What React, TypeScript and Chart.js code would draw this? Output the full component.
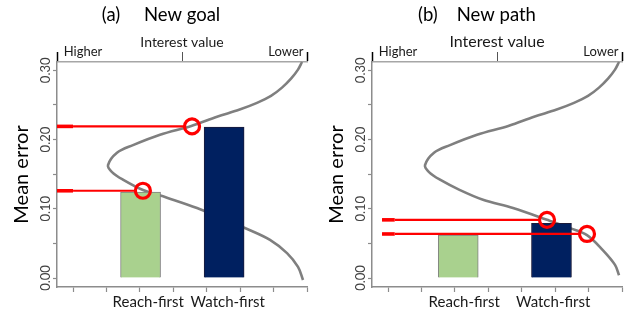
import React, { useEffect, useRef } from 'react';
import { Chart, registerables } from 'chart.js';

Chart.register(...registerables);

// ---------- data ----------
const categories = ['Reach-first', 'Watch-first'];
const panelTitles = ['(a)     New goal', '(b)    New path'];
const topAxisTitle = 'Interest value';
const yAxisTitle = 'Mean error';
const yTickValues = [0, 0.05, 0.1, 0.15, 0.2, 0.25, 0.3];
const yLabelledTicks = [0, 0.1, 0.2, 0.3];
const xTickValues = [0, 1, 2, 3, 4, 5, 6, 7];
const xRange = [-0.48, 7];
const yRange = [-0.013, 0.312];
const topTickValues = [-0.48, 0.3, 3.26, 6.37, 7];
const topTickLabels = ['', 'Higher', '', 'Lower', ''];

// panel (a) New goal
const barXA = [2.02, 4.52];
const barYA = [0.124, 0.218];
const labelXA = [2.25, 4.63];
const curveXA = [6.881, 6.731, 6.402, 5.893, 5.295, 3.709, 2.811, 2.093, 1.495, 1.166, 1.046, 1.315, 1.794, 2.602, 3.559, 4.308, 4.966, 5.504, 5.923, 6.252, 6.522, 6.731, 6.851];
const curveYA = [-0.003, 0.016, 0.036, 0.055, 0.069, 0.101, 0.116, 0.127, 0.142, 0.153, 0.163, 0.181, 0.192, 0.207, 0.22, 0.233, 0.243, 0.253, 0.263, 0.275, 0.288, 0.301, 0.312];
const redYA = [0.219, 0.126];
const redStartA = [-0.48, -0.48];
const redStubA = [0, 0];
const redEndA = [3.32, 1.85];
const circleXA = [3.56, 2.09];
const circleYA = [0.219, 0.126];

// panel (b) New path
const barXB = [2.1, 4.89];
const barYB = [0.062, 0.079];
const labelXB = [2.28, 4.94];
const curveXB = [6.911, 6.791, 6.432, 5.953, 5.445, 4.756, 3.739, 2.841, 2.153, 1.555, 1.226, 1.106, 1.375, 1.854, 2.662, 3.619, 4.368, 5.026, 5.564, 5.983, 6.312, 6.582, 6.791, 6.911];
const curveYB = [0.004, 0.019, 0.04, 0.062, 0.072, 0.084, 0.101, 0.113, 0.127, 0.142, 0.153, 0.163, 0.181, 0.192, 0.207, 0.22, 0.233, 0.243, 0.253, 0.263, 0.275, 0.288, 0.301, 0.312];
const redYB = [0.084, 0.0636];
const redStartB = [-0.18, -0.18];
const redStubB = [0.2, 0.2];
const redEndB = [4.517, 5.714];
const circleXB = [4.756, 5.953];
const circleYB = [0.084, 0.0636];

const barColors = ['#A9D18E', '#002060'];
const barBorders = ['#808080', '#1b1b3a'];

type PanelData = {
  title: string;
  topTitleSize: number;
  barX: number[];
  barY: number[];
  labelX: number[];
  curveX: number[];
  curveY: number[];
  redY: number[];
  redStart: number[];
  redStub: number[];
  redEnd: number[];
  circleX: number[];
  circleY: number[];
};

const panels: PanelData[] = [
  {
    title: panelTitles[0], topTitleSize: 14,
    barX: barXA, barY: barYA, labelX: labelXA, curveX: curveXA, curveY: curveYA,
    redY: redYA, redStart: redStartA, redStub: redStubA, redEnd: redEndA,
    circleX: circleXA, circleY: circleYA,
  },
  {
    title: panelTitles[1], topTitleSize: 16,
    barX: barXB, barY: barYB, labelX: labelXB, curveX: curveXB, curveY: curveYB,
    redY: redYB, redStart: redStartB, redStub: redStubB, redEnd: redEndB,
    circleX: circleXB, circleY: circleYB,
  },
];

const FONT = 'Lato, "Open Sans", sans-serif';
const TITLE_SIZE = 18.5;
const TITLE_PAD_TOP = 4;
const TITLE_H = TITLE_SIZE * 1.2 + TITLE_PAD_TOP;

function buildConfig(p: PanelData, canvasWidth: number): any {
  const plotLeft = 57;
  const plotRight = 307;
  const plotTop = 62;
  const curve = p.curveX.map((x, i) => ({ x, y: p.curveY[i] }));
  const bars = p.barX.map((x, i) => ({ x, y: p.barY[i] }));
  const circles = p.circleX.map((x, i) => ({ x, y: p.circleY[i] }));
  const redLines = p.redY.map((y, i) => ({
    type: 'line',
    data: [
      { x: p.redStart[i], y },
      { x: p.redStub[i], y },
      { x: p.redEnd[i], y },
    ],
    borderColor: '#ff0000',
    borderWidth: 2.2,
    segment: { borderWidth: (c: any) => (c.p0DataIndex === 0 ? 3.6 : 2.2) },
    pointRadius: 0,
    tension: 0,
    order: 1,
    clip: false,
  }));

  const bottomTicks = [...xTickValues, ...p.labelX].sort((a, b) => a - b);
  const topTitleLine = p.topTitleSize * 1.2;

  return {
    type: 'scatter',
    data: {
      datasets: [
        {
          type: 'line',
          data: curve,
          borderColor: '#7f7f7f',
          borderWidth: 2.6,
          pointRadius: 0,
          tension: 0.35,
          order: 3,
          clip: false,
        },
        {
          type: 'bar',
          data: bars,
          backgroundColor: barColors,
          borderColor: barBorders,
          borderWidth: 1,
          barThickness: 40,
          order: 2,
        },
        ...redLines,
        {
          type: 'scatter',
          data: circles,
          pointRadius: 7.5,
          pointStyle: 'circle',
          borderColor: '#ff0000',
          backgroundColor: 'rgba(0,0,0,0)',
          borderWidth: 3.2,
          order: 0,
          clip: false,
        },
      ],
    },
    options: {
      animation: false,
      responsive: false,
      layout: { padding: 0 },
      plugins: {
        legend: { display: false },
        tooltip: { enabled: false },
        title: {
          display: true,
          text: p.title,
          color: '#000',
          font: { family: FONT, size: TITLE_SIZE, weight: 'normal' },
          padding: { top: TITLE_PAD_TOP, bottom: 0 },
        },
      },
      scales: {
        x: {
          type: 'linear',
          position: 'bottom',
          offset: false,
          min: xRange[0],
          max: xRange[1],
          afterFit: (s: any) => { s.height = 28; },
          afterBuildTicks: (s: any) => { s.ticks = bottomTicks.map((v) => ({ value: v })); },
          border: { display: true, color: '#8c8c8c', width: 1.5 },
          grid: {
            offset: false,
            drawOnChartArea: false,
            drawTicks: true,
            tickLength: 5,
            tickWidth: 1.2,
            tickColor: (c: any) => (c.tick && xTickValues.includes(c.tick.value) ? '#8c8c8c' : 'rgba(0,0,0,0)'),
          },
          ticks: {
            autoSkip: false,
            maxRotation: 0,
            minRotation: 0,
            padding: 1,
            color: '#1a1a1a',
            font: { family: FONT, size: 15 },
            callback: (v: any) => {
              const i = p.labelX.indexOf(v);
              return i >= 0 ? categories[i] : '';
            },
          },
        },
        x2: {
          type: 'linear',
          position: 'top',
          offset: false,
          min: xRange[0],
          max: xRange[1],
          afterFit: (s: any) => { s.height = plotTop - TITLE_H; },
          afterBuildTicks: (s: any) => { s.ticks = topTickValues.map((v) => ({ value: v })); },
          border: { display: true, color: '#a6a6a6', width: 1.5 },
          grid: {
            offset: false,
            drawOnChartArea: false,
            drawTicks: true,
            tickLength: 10,
            tickWidth: (c: any) => (c.index === 0 || c.index === topTickValues.length - 1 ? 1.5 : 1),
            tickColor: (c: any) => {
              const i = c.index;
              if (i === 0 || i === topTickValues.length - 1) return '#000';
              if (topTickLabels[i] === '') return '#555';
              return 'rgba(0,0,0,0)';
            },
          },
          title: {
            display: true,
            text: topAxisTitle,
            color: '#1a1a1a',
            font: { family: FONT, size: p.topTitleSize },
            padding: { top: 42 - TITLE_H - topTitleLine / 2, bottom: 0 },
          },
          ticks: {
            autoSkip: false,
            maxRotation: 0,
            minRotation: 0,
            padding: -7.2,
            color: '#1a1a1a',
            font: { family: FONT, size: 13 },
            callback: (_v: any, i: number) => topTickLabels[i] || '',
          },
        },
        y: {
          type: 'linear',
          position: 'left',
          min: yRange[0],
          max: yRange[1],
          afterFit: (s: any) => { s.width = plotLeft; },
          afterBuildTicks: (s: any) => { s.ticks = yTickValues.map((v) => ({ value: v })); },
          border: { display: true, color: '#8c8c8c', width: 1.5 },
          grid: {
            drawOnChartArea: false,
            drawTicks: true,
            tickLength: 4,
            tickWidth: 1.2,
            tickColor: '#8c8c8c',
          },
          title: {
            display: true,
            text: yAxisTitle,
            color: '#000',
            font: { family: FONT, size: 20 },
            padding: { top: 10, bottom: 0 },
          },
          ticks: {
            autoSkip: false,
            minRotation: 90,
            maxRotation: 90,
            crossAlign: 'center',
            padding: -6,
            color: '#404040',
            font: { family: FONT, size: 13 },
            callback: (v: any) => {
              const hit = yLabelledTicks.find((t) => Math.abs(t - v) < 1e-9);
              return hit !== undefined ? hit.toFixed(2) : '';
            },
          },
        },
        yRightSpace: {
          type: 'linear',
          position: 'right',
          min: yRange[0],
          max: yRange[1],
          afterFit: (s: any) => { s.width = canvasWidth - plotRight; },
          border: { display: false },
          grid: { display: false, drawTicks: false },
          ticks: { display: false },
          title: { display: false },
        },
      },
    },
  };
}

function PanelChart({ panel, left, width }: { panel: PanelData; left: number; width: number }) {
  const ref = useRef<HTMLCanvasElement | null>(null);
  useEffect(() => {
    if (!ref.current) return;
    const chart = new Chart(ref.current, buildConfig(panel, width));
    return () => chart.destroy();
  }, [panel, width]);
  return (
    <canvas
      ref={ref}
      width={width}
      height={315}
      style={{ position: 'absolute', left, top: 0, width, height: 315 }}
    />
  );
}

export default function App() {
  return (
    <div style={{ position: 'fixed', left: 0, top: 0, width: 639, height: 315, background: '#fff' }}>
      <PanelChart panel={panels[0]} left={0} width={322} />
      <PanelChart panel={panels[1]} left={315} width={324} />
    </div>
  );
}
